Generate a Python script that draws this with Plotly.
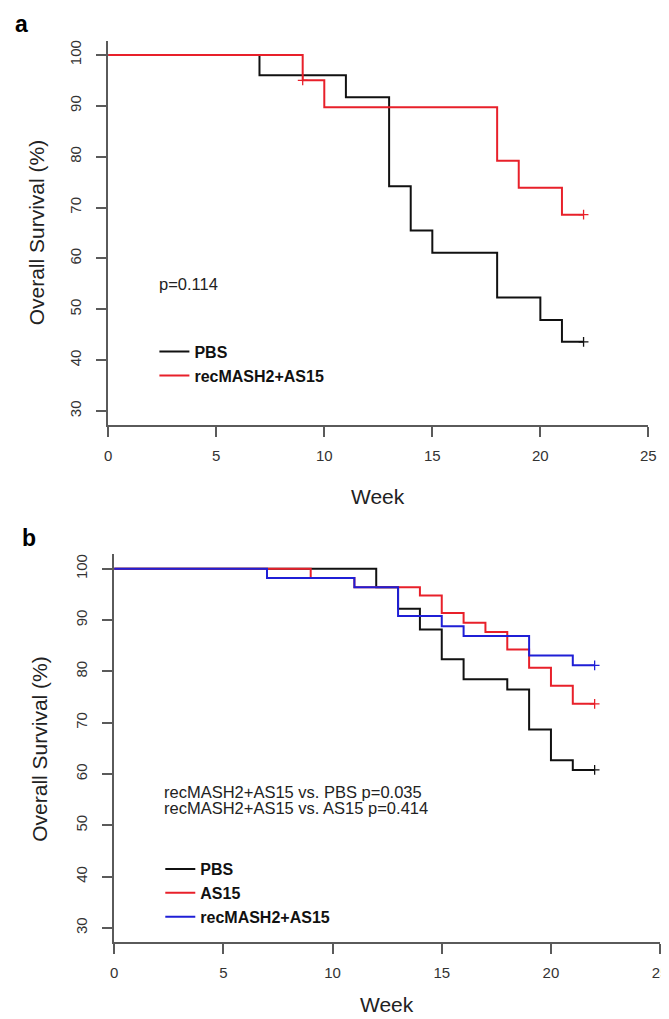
import plotly.graph_objects as go

W, H = 669, 1019
FONT = "Liberation Sans, Arial, sans-serif"

# ---------------- data ----------------
# Panel a
a_pbs_weeks = [0, 7, 11, 13, 14, 15, 18, 20, 21, 22]
a_pbs_surv = [100, 96.0, 91.7, 74.2, 65.5, 61.1, 52.3, 47.9, 43.6, 43.6]
a_pbs_cens_weeks = [22]
a_pbs_cens_surv = [43.6]

a_rec_weeks = [0, 9, 10, 18, 19, 21, 22]
a_rec_surv = [100, 95.0, 89.7, 79.2, 73.9, 68.6, 68.6]
a_rec_cens_weeks = [9, 22]
a_rec_cens_surv = [95.0, 68.6]

# Panel b
b_pbs_weeks = [0, 12, 13, 14, 15, 16, 18, 19, 20, 21, 22]
b_pbs_surv = [100, 96.4, 92.2, 88.2, 82.4, 78.5, 76.5, 68.7, 62.7, 60.8, 60.8]
b_as15_weeks = [0, 9, 11, 14, 15, 16, 17, 18, 19, 20, 21, 22]
b_as15_surv = [100, 98.2, 96.4, 94.8, 91.4, 89.5, 87.7, 84.3, 80.7, 77.2, 73.7, 73.7]
b_rec_weeks = [0, 7, 11, 13, 15, 16, 19, 21, 22]
b_rec_surv = [100, 98.2, 96.4, 90.8, 88.8, 86.9, 83.1, 81.2, 81.2]
b_cens_week = 22

x_ticks = [0, 5, 10, 15, 20, 25]
y_ticks = [30, 40, 50, 60, 70, 80, 90, 100]

names_a = ["PBS", "recMASH2+AS15"]
names_b = ["PBS", "AS15", "recMASH2+AS15"]
p_text_a = "p=0.114"
p_text_b = ["recMASH2+AS15 vs. PBS p=0.035", "recMASH2+AS15 vs. AS15 p=0.414"]

BLACK = "#111111"
RED = "#e8202a"
BLUE = "#1f1fd6"
AXIS = "#5a5a5a"


def px(x):
    return x / W


def py(y):
    return 1 - y / H


fig = go.Figure()


def km(xs, ys, color, name, xa, ya, legend, cx, cy):
    fig.add_trace(go.Scatter(x=xs, y=ys, mode="lines", line=dict(color=color, width=2, shape="hv"),
                             name=name, xaxis=xa, yaxis=ya, legend=legend, hoverinfo="skip"))
    fig.add_trace(go.Scatter(x=cx, y=cy, mode="markers",
                             marker=dict(symbol="cross-thin", size=7, line=dict(color=color, width=1.3)),
                             showlegend=False, xaxis=xa, yaxis=ya, hoverinfo="skip"))


km(a_pbs_weeks, a_pbs_surv, BLACK, names_a[0], "x", "y", "legend", a_pbs_cens_weeks, a_pbs_cens_surv)
km(a_rec_weeks, a_rec_surv, RED, names_a[1], "x", "y", "legend", a_rec_cens_weeks, a_rec_cens_surv)

km(b_pbs_weeks, b_pbs_surv, BLACK, names_b[0], "x2", "y2", "legend2", [b_cens_week], [b_pbs_surv[-1]])
km(b_as15_weeks, b_as15_surv, RED, names_b[1], "x2", "y2", "legend2", [b_cens_week], [b_as15_surv[-1]])
km(b_rec_weeks, b_rec_surv, BLUE, names_b[2], "x2", "y2", "legend2", [b_cens_week], [b_rec_surv[-1]])

tickfont = dict(family=FONT, size=15, color="#333333")
xcommon = dict(range=[0, 25], tickvals=x_ticks, showline=True, linecolor=AXIS, linewidth=2,
               ticks="outside", ticklen=10, tickwidth=2, tickcolor=AXIS, showgrid=False,
               zeroline=False, tickfont=tickfont, ticklabelstandoff=6, fixedrange=True)
ycommon = dict(range=[27.2, 102.8], tickvals=y_ticks, showline=True, linecolor=AXIS, linewidth=2,
               ticks="outside", ticklen=10, tickwidth=2, tickcolor=AXIS, showgrid=False,
               zeroline=False, tickfont=tickfont, tickangle=-90, ticklabelstandoff=9, fixedrange=True)

legfont = dict(family=FONT, size=16, color="#111111", weight="bold")

fig.update_layout(
    width=W, height=H, margin=dict(l=0, r=0, t=0, b=0),
    paper_bgcolor="white", plot_bgcolor="white",
    xaxis=dict(domain=[px(98), px(648)], anchor="y", **xcommon),
    yaxis=dict(domain=[py(416.7), py(31.7)], anchor="x", **ycommon),
    xaxis2=dict(domain=[px(104), px(660)], anchor="y2", **xcommon),
    yaxis2=dict(domain=[py(934.3), py(546)], anchor="x2", **ycommon),
    legend=dict(x=px(145), y=py(326), xanchor="left", yanchor="top", font=legfont,
                bgcolor="rgba(0,0,0,0)", tracegroupgap=0, traceorder="normal"),
    legend2=dict(x=px(151), y=py(844), xanchor="left", yanchor="top", font=legfont,
                 bgcolor="rgba(0,0,0,0)", tracegroupgap=0, traceorder="normal"),
    showlegend=True,
)

ann = []
# panel labels
ann.append(dict(text="<b>a</b>", x=px(1), y=1, xanchor="left", yanchor="top",
                font=dict(family=FONT, size=23, color="#000")))
ann.append(dict(text="<b>b</b>", x=px(8), y=py(530), xanchor="left", yanchor="middle",
                font=dict(family=FONT, size=23, color="#000")))
# axis titles
ann.append(dict(text="Week", x=px(373), y=py(488), xanchor="center", yanchor="middle",
                font=dict(family=FONT, size=21, color="#222")))
ann.append(dict(text="Week", x=px(382), y=py(996), xanchor="center", yanchor="middle",
                font=dict(family=FONT, size=21, color="#222")))
for (xc, yc) in [(25, 224), (28, 740)]:
    ann.append(dict(text="Overall Survival (%)", x=px(xc), y=py(yc), xanchor="center", yanchor="middle",
                    textangle=-90, font=dict(family=FONT, size=21, color="#222")))
# p-values
ann.append(dict(text=p_text_a, x=px(148), y=py(275), xanchor="left", yanchor="middle",
                font=dict(family=FONT, size=16.5, color="#222")))
for i, t in enumerate(p_text_b):
    ann.append(dict(text=t, x=px(153), y=py(784 + 16 * i), xanchor="left", yanchor="middle",
                    font=dict(family=FONT, size=16.5, color="#222")))

for a in ann:
    a.update(xref="paper", yref="paper", showarrow=False)
fig.update_layout(annotations=ann)

fig.write_html("out.html")
